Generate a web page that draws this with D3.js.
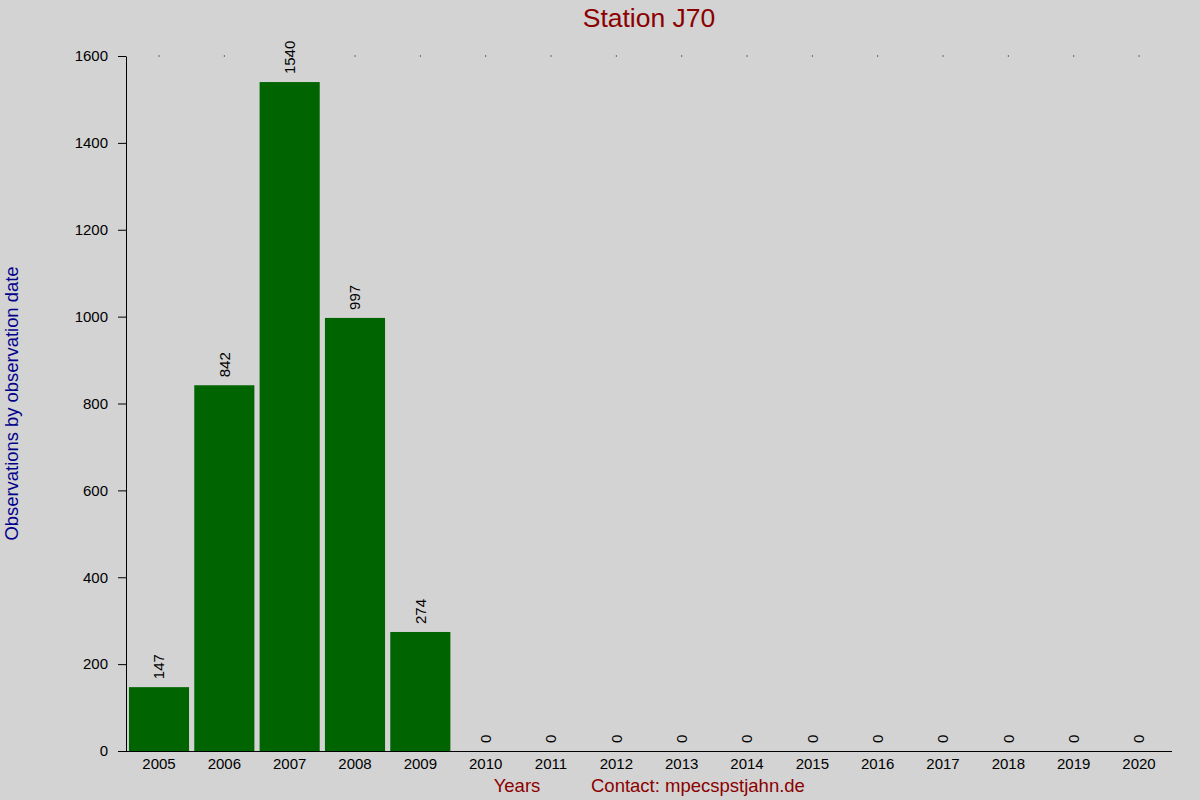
<!DOCTYPE html>
<html>
<head>
<meta charset="utf-8">
<script src="https://cdn.jsdelivr.net/npm/d3@7"></script>
<style>
  body { margin: 0; background: #d3d3d3; }
  svg { display: block; font-family: "Liberation Sans", Arial, sans-serif; }
</style>
</head>
<body>
<div id="chart"></div>
<script>
const years = ["2005", "2006", "2007", "2008", "2009", "2010", "2011", "2012",
  "2013", "2014", "2015", "2016", "2017", "2018", "2019", "2020"];
const counts = [147, 842, 1540, 997, 274, 0, 0, 0, 0, 0, 0, 0, 0, 0, 0, 0];
const yTicks = [0, 200, 400, 600, 800, 1000, 1200, 1400, 1600];

const width = 1200, height = 800;
const margin = { top: 56, right: 28, bottom: 49, left: 126 };

const data = years.map((y, i) => ({ year: y, value: counts[i] }));

const svg = d3.select("#chart").append("svg")
  .attr("width", width)
  .attr("height", height);

svg.append("rect").attr("width", width).attr("height", height).attr("fill", "#d3d3d3");

const x = d3.scaleBand()
  .domain(years)
  .range([margin.left, width - margin.right])
  .paddingInner(0.08)
  .paddingOuter(0.045);

const y = d3.scaleLinear()
  .domain([0, 1600])
  .range([height - margin.bottom, margin.top]);

// bars
svg.append("g").selectAll("rect")
  .data(data)
  .join("rect")
  .attr("x", d => x(d.year))
  .attr("y", d => y(d.value))
  .attr("width", x.bandwidth())
  .attr("height", d => y(0) - y(d.value))
  .attr("fill", "#006400");

// value labels, rotated
svg.append("g").selectAll("text")
  .data(data)
  .join("text")
  .attr("transform", d => `translate(${x(d.year) + x.bandwidth() / 2},${y(d.value) - 8}) rotate(-90)`)
  .attr("dy", "0.35em")
  .attr("text-anchor", "start")
  .style("font-size", "15px")
  .attr("fill", "#000")
  .text(d => d.value);

// little dots along the top
svg.append("g").selectAll("rect")
  .data(years)
  .join("rect")
  .attr("x", d => x(d) + x.bandwidth() / 2 - 0.5)
  .attr("y", margin.top - 0.5)
  .attr("width", 1)
  .attr("height", 1)
  .attr("fill", "#000");

// y axis
const yAxis = svg.append("g")
  .attr("transform", `translate(${margin.left},0)`)
  .call(d3.axisLeft(y).tickValues(yTicks).tickFormat(d3.format("d"))
    .tickSize(8).tickSizeOuter(0).tickPadding(10));
yAxis.selectAll("text").style("font-size", "15px").attr("fill", "#000");
yAxis.selectAll("line, path").attr("stroke", "#000");

// x axis
const xAxis = svg.append("g")
  .attr("transform", `translate(0,${y(0)})`)
  .call(d3.axisBottom(x).tickSize(0).tickPadding(7));
xAxis.select(".domain")
  .attr("d", `M${margin.left - 8},0.5H${width - margin.right}`)
  .attr("stroke", "#000");
xAxis.selectAll("text").style("font-size", "15px").attr("fill", "#000");

// title
svg.append("text")
  .attr("x", (margin.left + width - margin.right) / 2)
  .attr("y", 27)
  .attr("text-anchor", "middle")
  .style("font-size", "26.5px")
  .attr("fill", "#8b0000")
  .text("Station J70");

// y label
svg.append("text")
  .attr("transform", `translate(18,${(margin.top + height - margin.bottom) / 2}) rotate(-90)`)
  .attr("text-anchor", "middle")
  .style("font-size", "18.4px")
  .attr("fill", "#00008b")
  .text("Observations by observation date");

// bottom labels
svg.append("text")
  .attr("x", 517)
  .attr("y", 792)
  .attr("text-anchor", "middle")
  .style("font-size", "18.5px")
  .attr("fill", "#8b0000")
  .text("Years");

svg.append("text")
  .attr("x", 591)
  .attr("y", 792)
  .attr("text-anchor", "start")
  .style("font-size", "18.5px")
  .attr("fill", "#8b0000")
  .text("Contact: mpecspstjahn.de");
</script>
</body>
</html>
